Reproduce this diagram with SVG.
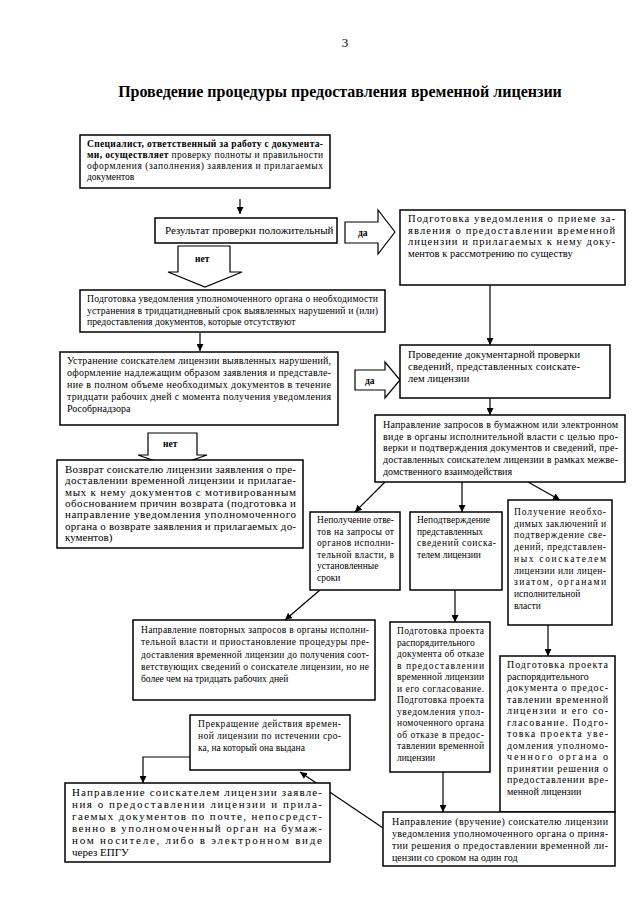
<svg xmlns="http://www.w3.org/2000/svg" width="640" height="905" viewBox="0 0 640 905">
<defs>
<style>
.box{fill:#fff;stroke:#000;stroke-width:1.5}
.blk{fill:#fff;stroke:#000;stroke-width:1.2}
.t{font-family:"Liberation Serif","Times New Roman",serif;font-size:10px;fill:#000}
.b{font-weight:bold}
.f9{font-size:9px}.f95{font-size:9.5px}.f97{font-size:9.7px}.f10{font-size:10px}.f105{font-size:10.5px}.f11{font-size:11px}.f13{font-size:13px}.f16{font-size:16px}
.conn{stroke:#000;stroke-width:1.2;fill:none;marker-end:url(#ah)}
</style>
<marker id="ah" viewBox="0 0 10 10" refX="10" refY="5" markerWidth="7" markerHeight="7" markerUnits="userSpaceOnUse" orient="auto"><path d="M0,0 L10,5 L0,10 z" fill="#000"/></marker>
</defs>
<rect width="640" height="905" fill="#fff"/>
<text class="t f13" x="345" y="47" text-anchor="middle">3</text>
<text class="t b f16" x="340" y="97" text-anchor="middle">Проведение процедуры предоставления временной лицензии</text>

<g id="connectors">
<line class="conn" x1="240" y1="199" x2="240" y2="214"/>
<line class="conn" x1="490" y1="285" x2="490" y2="345"/>
<line class="conn" x1="200" y1="333" x2="200" y2="351"/>
<line class="conn" x1="490" y1="398" x2="490" y2="415"/>
<line class="conn" x1="385" y1="482" x2="355" y2="512"/>
<line class="conn" x1="462" y1="482" x2="462" y2="512"/>
<line class="conn" x1="528" y1="482" x2="560" y2="500"/>
<line class="conn" x1="320" y1="590" x2="285" y2="620"/>
<line class="conn" x1="455" y1="590" x2="455" y2="622"/>
<line class="conn" x1="548" y1="625" x2="548" y2="656"/>
<line class="conn" x1="443" y1="772" x2="443" y2="812"/>
<line class="conn" x1="558" y1="800" x2="558" y2="812"/>
<line class="conn" x1="383" y1="828" x2="300" y2="772"/>
<polyline class="conn" points="190,757 143,757 143,783"/>
<g id="arrow-da1"><polygon class="blk" points="345,222 378,222 378,210 395,232 378,254 378,243 345,243"/><text class="t b f95" x="358" y="236">да</text></g>
<g id="arrow-net1"><polygon class="blk" points="178,246 230,246 230,272 242,272 205,287 168,272 178,272"/><text class="t b f95" x="195" y="262">нет</text></g>
<g id="arrow-da2"><polygon class="blk" points="355,370 385,370 385,362 400,380 385,398 385,390 355,390"/><text class="t b f95" x="365" y="384">да</text></g>
<g id="arrow-net2"><polygon class="blk" points="148,433 197,433 197,455 207,455 172,467 138,455 148,455"/><text class="t b f95" x="163" y="447">нет</text></g>
</g>

<g id="n1"><rect class="box" x="80" y="135" width="250" height="53"/>
<text class="t b f95" x="87" y="147" textLength="236" lengthAdjust="spacing">Специалист, ответственный за работу с документа-</text>
<text class="t f95" x="87" y="158" textLength="236" lengthAdjust="spacing"><tspan class="b">ми, осуществляет</tspan> проверку полноты и правильности</text>
<text class="t f95" x="87" y="169" textLength="236" lengthAdjust="spacing">оформления (заполнения) заявления и прилагаемых</text>
<text class="t f95" x="87" y="180">документов</text>
</g>

<g id="n2"><rect class="box" x="155" y="218" width="182" height="25"/>
<text class="t f11" x="165" y="234">Результат проверки положительный</text>
</g>

<g id="n3"><rect class="box" x="400" y="210" width="225" height="75"/>
<text class="t f105" x="408" y="222" textLength="207" lengthAdjust="spacing">Подготовка уведомления о приеме за-</text>
<text class="t f105" x="408" y="234" textLength="207" lengthAdjust="spacing">явления о предоставлении временной</text>
<text class="t f105" x="408" y="245" textLength="207" lengthAdjust="spacing">лицензии и прилагаемых к нему доку-</text>
<text class="t f105" x="408" y="257">ментов к рассмотрению по существу</text>
</g>

<g id="n4"><rect class="box" x="80" y="290" width="305" height="42"/>
<text class="t f97" x="87" y="302" textLength="291" lengthAdjust="spacing">Подготовка уведомления уполномоченного органа о необходимости</text>
<text class="t f97" x="87" y="314" textLength="291" lengthAdjust="spacing">устранения в тридцатидневный срок выявленных нарушений и (или)</text>
<text class="t f97" x="87" y="325">предоставления документов, которые отсутствуют</text>
</g>

<g id="n5"><rect class="box" x="60" y="352" width="278" height="73"/>
<text class="t f10" x="67" y="364" textLength="264" lengthAdjust="spacing">Устранение соискателем лицензии выявленных нарушений,</text>
<text class="t f10" x="67" y="376" textLength="264" lengthAdjust="spacing">оформление надлежащим образом заявления и представле-</text>
<text class="t f10" x="67" y="388" textLength="264" lengthAdjust="spacing">ние в полном объеме необходимых документов в течение</text>
<text class="t f10" x="67" y="400" textLength="264" lengthAdjust="spacing">тридцати рабочих дней с момента получения уведомления</text>
<text class="t f10" x="67" y="412">Рособрнадзора</text>
</g>

<g id="n6"><rect class="box" x="400" y="345" width="210" height="53"/>
<text class="t f105" x="408" y="358" textLength="172" lengthAdjust="spacing">Проведение документарной проверки</text>
<text class="t f105" x="408" y="370" textLength="172" lengthAdjust="spacing">сведений, представленных соискате-</text>
<text class="t f105" x="408" y="382">лем лицензии</text>
</g>

<g id="n7"><rect class="box" x="375" y="415" width="250" height="67"/>
<text class="t f10" x="383" y="428" textLength="235" lengthAdjust="spacing">Направление запросов в бумажном или электронном</text>
<text class="t f10" x="383" y="440" textLength="235" lengthAdjust="spacing">виде в органы исполнительной власти с целью про-</text>
<text class="t f10" x="383" y="451" textLength="235" lengthAdjust="spacing">верки и подтверждения документов и сведений, пре-</text>
<text class="t f10" x="383" y="463" textLength="235" lengthAdjust="spacing">доставленных соискателем лицензии в рамках межве-</text>
<text class="t f10" x="383" y="475">домственного взаимодействия</text>
</g>

<g id="n8"><rect class="box" x="57" y="460" width="246" height="88"/>
<text class="t f11" x="65" y="473" textLength="231" lengthAdjust="spacing">Возврат соискателю лицензии заявления о пре-</text>
<text class="t f11" x="65" y="484.3" textLength="231" lengthAdjust="spacing">доставлении временной лицензии и прилагае-</text>
<text class="t f11" x="65" y="495.6" textLength="231" lengthAdjust="spacing">мых к нему документов с мотивированным</text>
<text class="t f11" x="65" y="506.9" textLength="231" lengthAdjust="spacing">обоснованием причин возврата (подготовка и</text>
<text class="t f11" x="65" y="518.2" textLength="231" lengthAdjust="spacing">направление уведомления уполномоченного</text>
<text class="t f11" x="65" y="529.5" textLength="231" lengthAdjust="spacing">органа о возврате заявления и прилагаемых до-</text>
<text class="t f11" x="65" y="540.8">кументов)</text>
</g>

<g id="n9"><rect class="box" x="310" y="512" width="90" height="78"/>
<text class="t f95" x="317" y="523" textLength="77" lengthAdjust="spacing">Неполучение отве-</text>
<text class="t f95" x="317" y="534.5" textLength="77" lengthAdjust="spacing">тов на запросы от</text>
<text class="t f95" x="317" y="546" textLength="77" lengthAdjust="spacing">органов исполни-</text>
<text class="t f95" x="317" y="557.5" textLength="77" lengthAdjust="spacing">тельной власти, в</text>
<text class="t f95" x="317" y="569">установленные</text>
<text class="t f95" x="317" y="580.5">сроки</text>
</g>

<g id="n10"><rect class="box" x="410" y="512" width="92" height="78"/>
<text class="t f95" x="417" y="523">Неподтверждение</text>
<text class="t f95" x="417" y="534.5">представленных</text>
<text class="t f95" x="417" y="546" textLength="79" lengthAdjust="spacing">сведений соиска-</text>
<text class="t f95" x="417" y="557.5">телем лицензии</text>
</g>

<g id="n11"><rect class="box" x="508" y="500" width="104" height="125"/>
<text class="t f95" x="514" y="515" textLength="92" lengthAdjust="spacing">Получение необхо-</text>
<text class="t f95" x="514" y="526.7" textLength="92" lengthAdjust="spacing">димых заключений и</text>
<text class="t f95" x="514" y="538.4" textLength="92" lengthAdjust="spacing">подтверждение све-</text>
<text class="t f95" x="514" y="550.1" textLength="92" lengthAdjust="spacing">дений, представлен-</text>
<text class="t f95" x="514" y="561.8" textLength="92" lengthAdjust="spacing">ных соискателем</text>
<text class="t f95" x="514" y="573.5" textLength="92" lengthAdjust="spacing">лицензии или лицен-</text>
<text class="t f95" x="514" y="585.2" textLength="92" lengthAdjust="spacing">зиатом, органами</text>
<text class="t f95" x="514" y="596.9">исполнительной</text>
<text class="t f95" x="514" y="608.6">власти</text>
</g>

<g id="n12"><rect class="box" x="133" y="620" width="242" height="80"/>
<text class="t f95" x="141" y="633" textLength="228" lengthAdjust="spacing">Направление повторных запросов в органы исполни-</text>
<text class="t f95" x="141" y="645.3" textLength="228" lengthAdjust="spacing">тельной власти и приостановление процедуры пре-</text>
<text class="t f95" x="141" y="657.6" textLength="228" lengthAdjust="spacing">доставления временной лицензии до получения соот-</text>
<text class="t f95" x="141" y="669.9" textLength="228" lengthAdjust="spacing">ветствующих сведений о соискателе лицензии, но не</text>
<text class="t f95" x="141" y="682.2">более чем на тридцать рабочих дней</text>
</g>

<g id="n13"><rect class="box" x="390" y="622" width="100" height="150"/>
<text class="t f95" x="397" y="634" textLength="87" lengthAdjust="spacing">Подготовка проекта</text>
<text class="t f95" x="397" y="645.5">распорядительного</text>
<text class="t f95" x="397" y="657" textLength="87" lengthAdjust="spacing">документа об отказе</text>
<text class="t f95" x="397" y="668.5" textLength="87" lengthAdjust="spacing">в предоставлении</text>
<text class="t f95" x="397" y="680" textLength="87" lengthAdjust="spacing">временной лицензии</text>
<text class="t f95" x="397" y="691.5" textLength="87" lengthAdjust="spacing">и его согласование.</text>
<text class="t f95" x="397" y="703" textLength="87" lengthAdjust="spacing">Подготовка проекта</text>
<text class="t f95" x="397" y="714.5" textLength="87" lengthAdjust="spacing">уведомления упол-</text>
<text class="t f95" x="397" y="726" textLength="87" lengthAdjust="spacing">номоченного органа</text>
<text class="t f95" x="397" y="737.5" textLength="87" lengthAdjust="spacing">об отказе в предос-</text>
<text class="t f95" x="397" y="749" textLength="87" lengthAdjust="spacing">тавлении временной</text>
<text class="t f95" x="397" y="760.5">лицензии</text>
</g>

<g id="n14"><rect class="box" x="500" y="656" width="115" height="156"/>
<text class="t f10" x="507" y="668" textLength="101" lengthAdjust="spacing">Подготовка проекта</text>
<text class="t f10" x="507" y="679.5">распорядительного</text>
<text class="t f10" x="507" y="691" textLength="101" lengthAdjust="spacing">документа о предос-</text>
<text class="t f10" x="507" y="702.5" textLength="101" lengthAdjust="spacing">тавлении временной</text>
<text class="t f10" x="507" y="714" textLength="101" lengthAdjust="spacing">лицензии и его со-</text>
<text class="t f10" x="507" y="725.5" textLength="101" lengthAdjust="spacing">гласование. Подго-</text>
<text class="t f10" x="507" y="737" textLength="101" lengthAdjust="spacing">товка проекта уве-</text>
<text class="t f10" x="507" y="748.5" textLength="101" lengthAdjust="spacing">домления уполномо-</text>
<text class="t f10" x="507" y="760" textLength="101" lengthAdjust="spacing">ченного органа о</text>
<text class="t f10" x="507" y="771.5" textLength="101" lengthAdjust="spacing">принятии решения о</text>
<text class="t f10" x="507" y="783" textLength="101" lengthAdjust="spacing">предоставлении вре-</text>
<text class="t f10" x="507" y="794.5">менной лицензии</text>
</g>

<g id="n15"><rect class="box" x="190" y="715" width="160" height="55"/>
<text class="t f95" x="198" y="727" textLength="143" lengthAdjust="spacing">Прекращение действия времен-</text>
<text class="t f95" x="198" y="739" textLength="143" lengthAdjust="spacing">ной лицензии по истечении сро-</text>
<text class="t f95" x="198" y="750.5">ка, на который она выдана</text>
</g>

<g id="n16"><rect class="box" x="65" y="783" width="265" height="79"/>
<text class="t f11" x="72" y="796" textLength="250" lengthAdjust="spacing">Направление соискателем лицензии заявле-</text>
<text class="t f11" x="72" y="808" textLength="250" lengthAdjust="spacing">ния о предоставлении лицензии и прила-</text>
<text class="t f11" x="72" y="820" textLength="250" lengthAdjust="spacing">гаемых документов по почте, непосредст-</text>
<text class="t f11" x="72" y="832" textLength="250" lengthAdjust="spacing">венно в уполномоченный орган на бумаж-</text>
<text class="t f11" x="72" y="844" textLength="250" lengthAdjust="spacing">ном носителе, либо в электронном виде</text>
<text class="t f11" x="72" y="856">через ЕПГУ</text>
</g>

<g id="n17"><rect class="box" x="383" y="812" width="232" height="54"/>
<text class="t f10" x="392" y="825" textLength="216" lengthAdjust="spacing">Направление (вручение) соискателю лицензии</text>
<text class="t f10" x="392" y="837" textLength="216" lengthAdjust="spacing">уведомления уполномоченного органа о приня-</text>
<text class="t f10" x="392" y="849" textLength="216" lengthAdjust="spacing">тии решения о предоставлении временной ли-</text>
<text class="t f10" x="392" y="860.5">цензии со сроком на один год</text>
</g>
</svg>
